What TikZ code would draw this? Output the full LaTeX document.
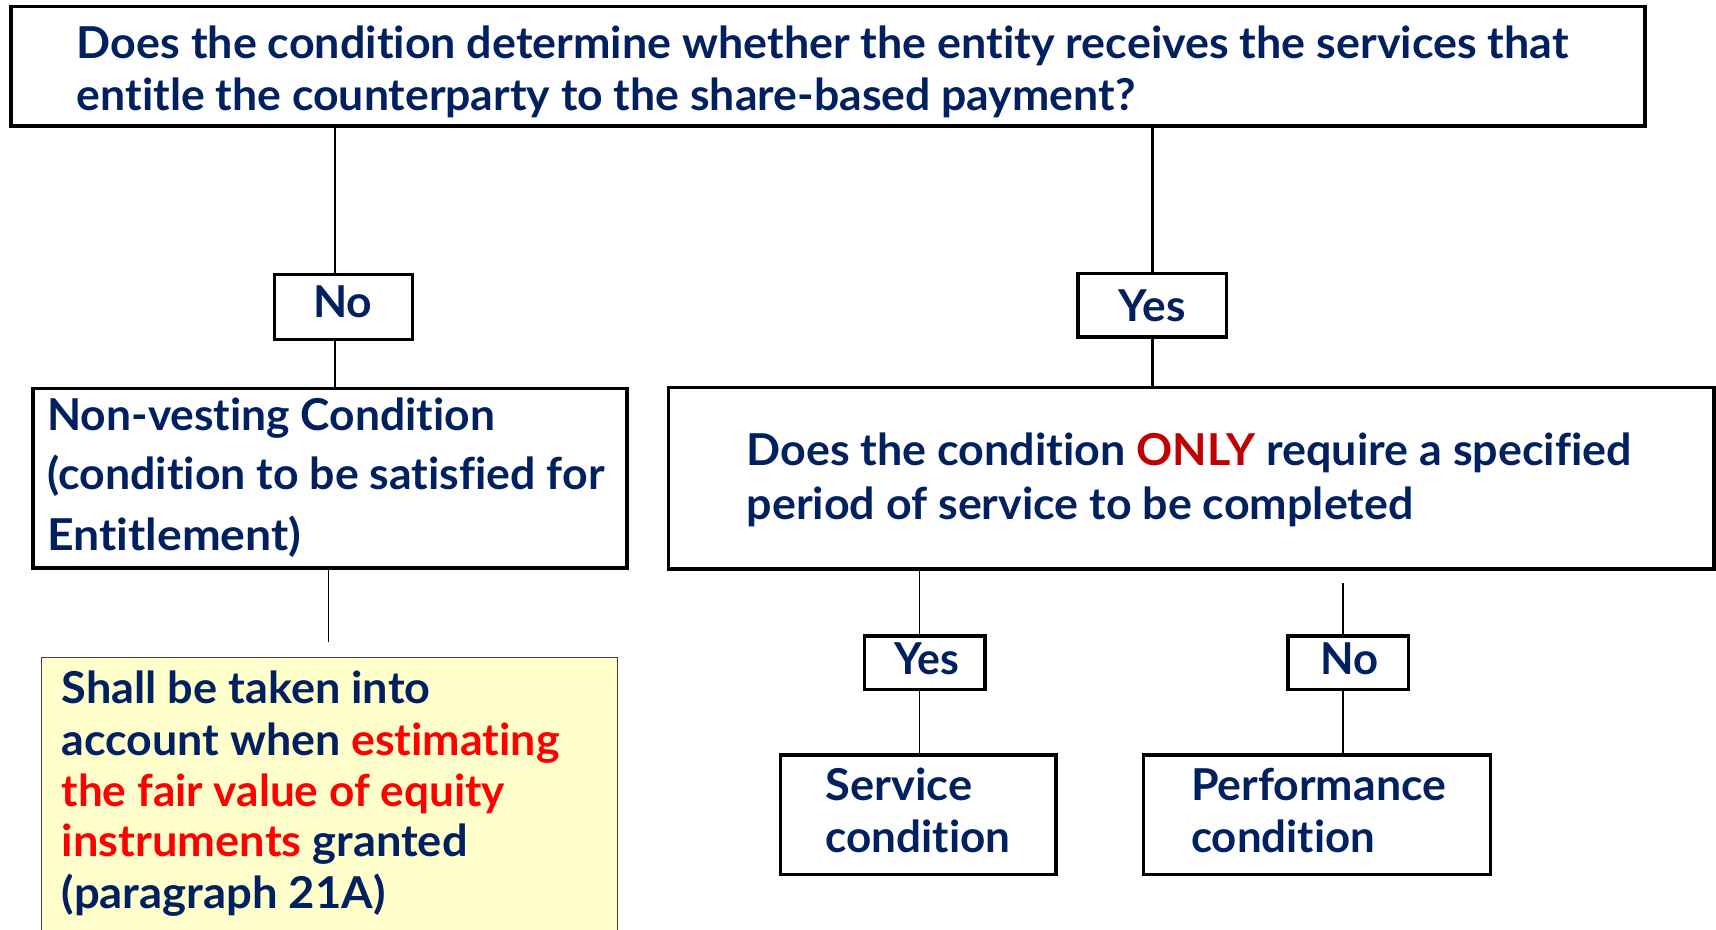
\documentclass[tikz,border=0pt]{standalone}
\usepackage{fontspec}
\setmainfont{Lato}[Ligatures=NoCommon]
\usepackage{graphicx}
\usetikzlibrary{fit}
\definecolor{navy}{HTML}{002060}
\definecolor{darkred}{HTML}{C00000}
\definecolor{brightred}{HTML}{FF0000}
\definecolor{paleyellow}{HTML}{FFFFCC}
\newdimen\pxu
\pxu=0.02188cm
\newcommand\fw[2]{\resizebox{#1\pxu}{\height}{#2}}
\tikzset{
  box/.style={draw=black, line width=1.9pt, inner sep=0pt},
  tag/.style={draw=black, line width=1.9pt, inner sep=0pt},
  note/.style={draw=black!75, line width=0.7pt, fill=paleyellow, inner sep=0pt},
  txt/.style={text=navy, inner sep=0pt, anchor=base west, font=\fontsize{25}{29}\selectfont\bfseries},
  conn/.style={draw=black, line width=1.4pt},
  thin/.style={draw=black, line width=0.9pt}
}
\begin{document}
\begin{tikzpicture}[x=0.02188cm, y=-0.02188cm]
\useasboundingbox[fill=white] (0,0) rectangle (1568,849);

% boxes
\node[box, fit={(10,6) (1503,115)}] (top) {};
\node[tag, fit={(251,251) (377,310)}] (no1) {};
\node[tag, fit={(985,250) (1121,308)}] (yes1) {};
\node[box, fit={(30,355) (573,519)}] (nv) {};
\node[box, fit={(611,354) (1566,520)}] (big) {};
\node[note, fit={(38,601) (564,870)}] (res) {};
\node[tag, fit={(790,581) (900,630)}] (yes2) {};
\node[tag, fit={(1177,581) (1287,630)}] (no2) {};
\node[box, fit={(713,690) (965,799)}] (svc) {};
\node[box, fit={(1045,690) (1362,799)}] (perf) {};

% connectors
\coordinate (nox) at (306,0);
\draw[conn] (top.south -| nox) -- (no1.north -| nox);
\draw[conn] (no1.south -| nox) -- (nv.north -| nox);
\coordinate (nvend) at (300,587);
\draw[thin] (nv.south -| nvend) -- (nvend);
\draw[conn] (yes1.north |- top.south) -- (yes1.north);
\draw[conn] (yes1.south) -- (yes1.south |- big.north);
\coordinate (syx) at (840,0);
\draw[thin] (big.south -| syx) -- (yes2.north -| syx);
\draw[thin] (yes2.south -| syx) -- (svc.north -| syx);
\coordinate (nostart) at (1227,533);
\draw[conn] (nostart) -- (no2.north -| nostart);
\draw[conn] (no2.south -| nostart) -- (perf.north -| nostart);

% texts
\node[txt] (t1) at (70,53) {\fw{1363}{Does the condition determine whether the entity receives the services that}};
\node[txt] (t2) at (70,101) {\fw{967}{entitle the counterparty to the share-based payment?}};

\node[txt] (tno1) at (286,290) {\fw{54}{No}};
\node[txt] (tyes1) at (1022,294) {\fw{61}{Yes}};

\node[txt] (nv1) at (43,393) {\fw{409}{Non-vesting Condition}};
\node[txt] (nv2) at (43,447) {\fw{509}{(condition to be satisfied for}};
\node[txt] (nv3) at (43,503) {\fw{232}{Entitlement)}};

\node[txt] (b1) at (682,425) {\fw{809}{Does the condition \textcolor{darkred}{ONLY} require a specified}};
\node[txt] (b2) at (682,475) {\fw{609}{period of service to be completed}};

\node[txt] (r1) at (56,643) {\fw{337}{Shall be taken into}};
\node[txt] (r2) at (56,690) {\fw{455}{account when \textcolor{brightred}{estimating}}};
\node[txt, text=brightred] (r3) at (56,737) {\fw{405}{the fair value of equity}};
\node[txt] (r4) at (56,783) {\fw{371}{\textcolor{brightred}{instruments} granted}};
\node[txt] (r5) at (56,830) {\fw{296}{(paragraph 21A)}};

\node[txt] (tyes2) at (817,616) {\fw{59}{Yes}};
\node[txt] (tno2) at (1206,616) {\fw{53}{No}};

\node[txt] (s1) at (754,731) {\fw{134}{Service}};
\node[txt] (s2) at (754,779) {\fw{169}{condition}};
\node[txt] (p1) at (1088,731) {\fw{233}{Performance}};
\node[txt] (p2) at (1088,779) {\fw{168}{condition}};
\end{tikzpicture}
\end{document}
